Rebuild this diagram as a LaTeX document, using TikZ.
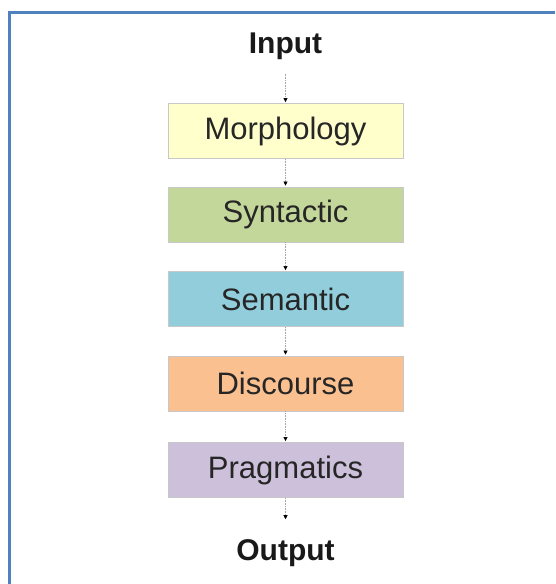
\documentclass[tikz,border=0pt]{standalone}
\usepackage{fontspec}
\setmainfont{Liberation Sans}
\usetikzlibrary{arrows.meta}
\definecolor{frameblue}{HTML}{4F81BD}
\definecolor{morphfill}{HTML}{FFFFCC}
\definecolor{synfill}{HTML}{C4D79B}
\definecolor{semfill}{HTML}{92CDDC}
\definecolor{discfill}{HTML}{FAC090}
\definecolor{pragfill}{HTML}{CCC0DA}
\definecolor{edgegray}{HTML}{C8C8C8}
\tikzset{
  stage/.style={draw=edgegray, line width=0.8pt, minimum width=235pt, minimum height=55pt,
    inner sep=0pt, font=\fontsize{31}{36}\selectfont, text=black!85},
  endlabel/.style={inner sep=0pt, font=\fontsize{30}{34}\selectfont\bfseries, text=black!90},
  flow/.style={draw=black!35, densely dotted, line width=0.6pt,
    -{Triangle[length=4pt,width=4pt,fill=black,color=black]}},
}
\begin{document}
\begin{tikzpicture}[x=1pt,y=-1pt]
  \useasboundingbox (0,0) rectangle (555,584);
  % outer frame, open to the right and bottom
  \draw[frameblue, line width=3pt] (9,584) -- (9,12) -- (555,12);

  \node[endlabel] (in) at (285.5,46) {Input};
  \node[stage, fill=morphfill] (morph) at (285.5,131) {Morphology};
  \node[stage, fill=synfill] (syn) at (285.5,214.5) {Syntactic};
  \node[stage, fill=semfill] (sem) at (285.5,299) {Semantic};
  \node[stage, fill=discfill] (disc) at (285.5,383.5) {Discourse};
  \node[stage, fill=pragfill] (prag) at (285.5,470) {Pragmatics};
  \node[endlabel] (out) at (285.5,553) {Output};

  \draw[flow, shorten <=14pt, shorten >=1pt] (in) -- (morph);
  \draw[flow, shorten >=1pt] (morph) -- (syn);
  \draw[flow, shorten >=1pt] (syn) -- (sem);
  \draw[flow, shorten >=1pt] (sem) -- (disc);
  \draw[flow, shorten >=1pt] (disc) -- (prag);
  \draw[flow, shorten >=20pt] (prag) -- (out);
\end{tikzpicture}
\end{document}
